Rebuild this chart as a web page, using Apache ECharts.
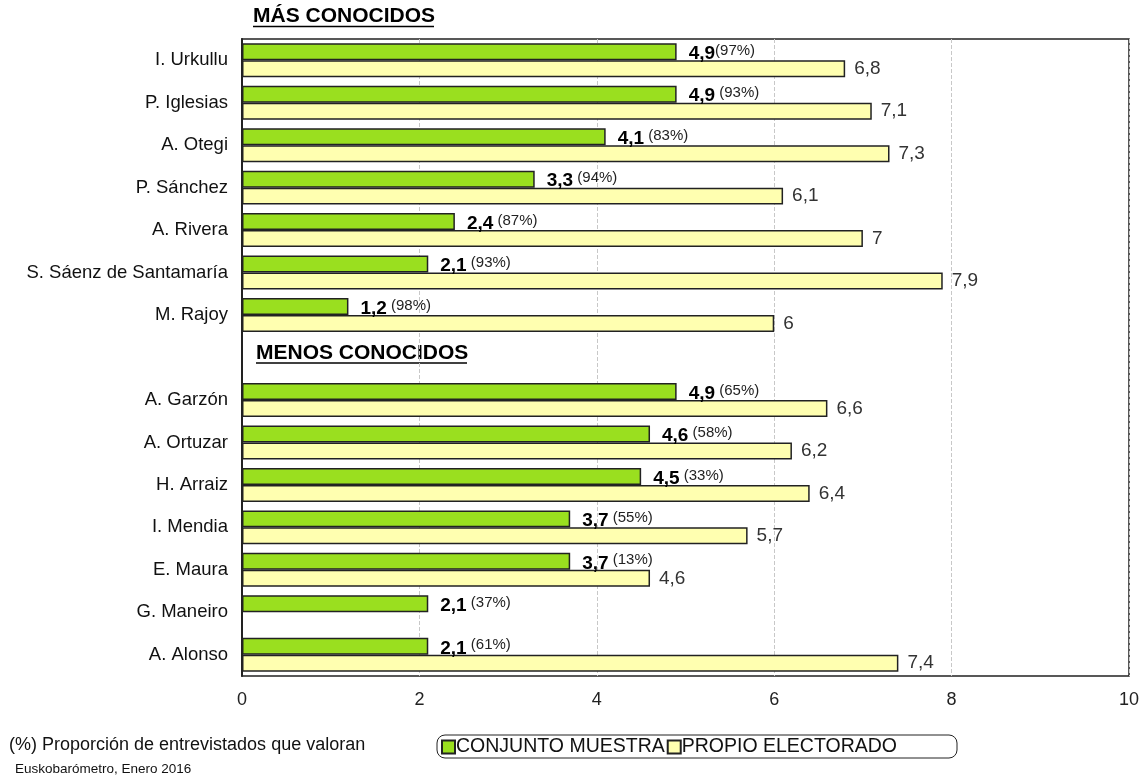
<!DOCTYPE html>
<html>
<head>
<meta charset="utf-8">
<script src="https://cdn.jsdelivr.net/npm/echarts@6/dist/echarts.min.js"></script>
<style>
html,body{margin:0;padding:0;background:#fff;}
#chart{width:1144px;height:778px;}
</style>
</head>
<body>
<div id="chart"></div>
<script>
const categories = ['I. Urkullu','P. Iglesias','A. Otegi','P. Sánchez','A. Rivera','S. Sáenz de Santamaría','M. Rajoy','',
  'A. Garzón','A. Ortuzar','H. Arraiz','I. Mendia','E. Maura','G. Maneiro','A. Alonso'];
const conjuntoMuestra = [4.9,4.9,4.1,3.3,2.4,2.1,1.2,null,4.9,4.6,4.5,3.7,3.7,2.1,2.1];
const propioElectorado = [6.8,7.1,7.3,6.1,7,7.9,6,null,6.6,6.2,6.4,5.7,4.6,null,7.4];
const proporcion = ['(97%)',' (93%)',' (83%)',' (94%)',' (87%)',' (93%)',' (98%)','',' (65%)',' (58%)',' (33%)',' (55%)',' (13%)',' (37%)',' (61%)'];
const xTicks = [0,2,4,6,8,10];
const seriesNames = ['CONJUNTO MUESTRA','PROPIO ELECTORADO'];
const sectionTitles = ['MÁS CONOCIDOS','MENOS CONOCIDOS'];
const footNote = '(%) Proporción de entrevistados que valoran';
const source = 'Euskobarómetro, Enero 2016';

const FONT = '"Liberation Sans", Arial, sans-serif';
const fmt = v => String(v).replace('.', ',');

const chart = echarts.init(document.getElementById('chart'), null, {renderer:'canvas'});
chart.setOption({
  backgroundColor:'#fff',
  animation:false,
  textStyle:{fontFamily:FONT},
  grid:{left:242, right:15, top:39, bottom:102, show:true, borderColor:'#222', borderWidth:1.5},
  xAxis:{
    type:'value', min:xTicks[0], max:xTicks[xTicks.length-1], interval:2,
    axisLine:{show:false}, axisTick:{show:false},
    splitLine:{show:true, lineStyle:{color:'#c8c8c8', type:'dashed', width:1}},
    axisLabel:{fontSize:18, color:'#222', margin:15, fontFamily:FONT}
  },
  yAxis:{
    type:'category', data:categories, inverse:true,
    axisLine:{show:true, lineStyle:{color:'#222', width:2}}, axisTick:{show:false},
    axisLabel:{fontSize:18.5, color:'#111', margin:14, fontFamily:FONT},
    splitLine:{show:false}
  },
  legend:{
    left:437, top:735, orient:'horizontal', itemGap:2, itemWidth:13, itemHeight:13, icon:'rect',
    borderColor:'#222', borderWidth:1, borderRadius:8, padding:[2,60,1,4],
    textStyle:{fontSize:19.5, color:'#111', fontFamily:FONT, padding:[0,0,0,-4]},
    data:seriesNames
  },
  series:[
    {
      name:seriesNames[0], type:'bar', data:conjuntoMuestra,
      barCategoryGap:'20%', barGap:'0%',
      itemStyle:{color:'#9ADF1F', borderColor:'#222', borderWidth:1.5},
      label:{
        show:true, position:'right', distance:12, offset:[0,2],
        formatter:p => p.value == null ? '' : '{v|' + fmt(p.value) + '}{p|' + proporcion[p.dataIndex] + '}',
        rich:{
          v:{fontSize:19, fontWeight:'bold', color:'#000', fontFamily:FONT},
          p:{fontSize:15, color:'#222', fontFamily:FONT, padding:[0,0,6,0]}
        }
      }
    },
    {
      name:seriesNames[1], type:'bar', data:propioElectorado,
      itemStyle:{color:'#FFFFB0', borderColor:'#222', borderWidth:1.5},
      label:{
        show:true, position:'right', distance:9, fontSize:19, color:'#333', fontFamily:FONT,
        formatter:p => p.value == null ? '' : fmt(p.value)
      }
    }
  ],
  graphic:[
    {type:'text', left:253, top:6, style:{text:sectionTitles[0], fill:'#000', font:'bold 21px ' + FONT}},
    {type:'line', shape:{x1:253, y1:26.5, x2:434, y2:26.5}, style:{stroke:'#000', lineWidth:1.5}},
    {type:'text', left:256, top:343, style:{text:sectionTitles[1], fill:'#000', font:'bold 21px ' + FONT}},
    {type:'line', shape:{x1:256, y1:363, x2:467, y2:363}, style:{stroke:'#000', lineWidth:1.5}},
    {type:'text', left:9, top:736, style:{text:footNote, font:'18px ' + FONT, fill:'#111'}},
    {type:'text', left:15, top:762, style:{text:source, font:'13.5px ' + FONT, fill:'#111'}}
  ]
});
</script>
</body>
</html>
